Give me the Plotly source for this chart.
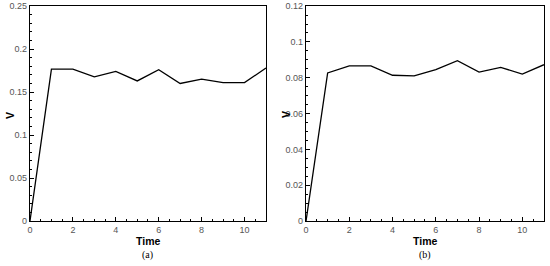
import plotly.graph_objects as go

# data
time = [0, 1, 2, 3, 4, 5, 6, 7, 8, 9, 10, 11]
v_a = [0.0, 0.1766, 0.1766, 0.1677, 0.174, 0.163, 0.176, 0.160, 0.165, 0.161, 0.161, 0.178]
v_b = [0.0, 0.0827, 0.0866, 0.0866, 0.0814, 0.0810, 0.0845, 0.0895, 0.0832, 0.0858, 0.0820, 0.0873]
captions = ["(a)", "(b)"]

fig = go.Figure()
fig.add_trace(go.Scatter(x=time, y=v_a, mode="lines", line=dict(color="black", width=1.3),
                         xaxis="x", yaxis="y", showlegend=False))
fig.add_trace(go.Scatter(x=time, y=v_b, mode="lines", line=dict(color="black", width=1.3),
                         xaxis="x2", yaxis="y2", showlegend=False))

tickfont = dict(family="Arial, Liberation Sans", size=9, color="#555")
common = dict(showgrid=False, zeroline=False, showline=True, mirror=True,
              linecolor="black", linewidth=1.3, ticks="inside", ticklen=4,
              tickcolor="black", tickfont=tickfont, automargin=False)

x_dom_a = [0.0545, 0.4836]
x_dom_b = [0.5564, 0.989]
y_dom = [0.169, 0.977]

fig.update_layout(
    width=550, height=266,
    margin=dict(l=0, r=0, t=0, b=0, autoexpand=False),
    paper_bgcolor="white", plot_bgcolor="white",
    xaxis=dict(domain=x_dom_a, range=[0, 11], dtick=2, anchor="y",
               minor=dict(dtick=0.5, ticks="inside", ticklen=2, tickcolor="black"), **common),
    yaxis=dict(domain=y_dom, range=[0, 0.25], dtick=0.05, anchor="x",
               minor=dict(dtick=0.01, ticks="inside", ticklen=2, tickcolor="black"), **common),
    xaxis2=dict(domain=x_dom_b, range=[0, 11], dtick=2, anchor="y2",
                minor=dict(dtick=0.5, ticks="inside", ticklen=2, tickcolor="black"), **common),
    yaxis2=dict(domain=y_dom, range=[0, 0.12], dtick=0.02, anchor="x2",
                minor=dict(dtick=0.005, ticks="inside", ticklen=2, tickcolor="black"), **common),
)

titlefont = dict(family="Arial, Liberation Sans", size=10.5, color="black")
capfont = dict(family="Times New Roman, Liberation Serif", size=10, color="black")
for xd, cap in zip([x_dom_a, x_dom_b], captions):
    mid = (xd[0] + xd[1]) / 2
    fig.add_annotation(x=mid, y=(266 - 241) / 266, xref="paper", yref="paper",
                       xanchor="center", yanchor="middle", borderpad=0,
                       text="<b>Time</b>", showarrow=False, font=titlefont)
    fig.add_annotation(x=mid, y=(266 - 255) / 266, xref="paper", yref="paper",
                       xanchor="center", yanchor="middle", borderpad=0,
                       text=cap, showarrow=False, font=capfont)
    fig.add_annotation(x=xd[0] - 20 / 550, y=(266 - 115) / 266, xref="paper", yref="paper",
                       xanchor="center", yanchor="middle",
                       text="<b>V</b>", showarrow=False, textangle=-90, font=titlefont)

# drop the default page margin so the 550x266 figure sits at the window's corner
fig.write_html("out.html", config={"displayModeBar": False},
               post_script="document.body.style.margin='0';")
